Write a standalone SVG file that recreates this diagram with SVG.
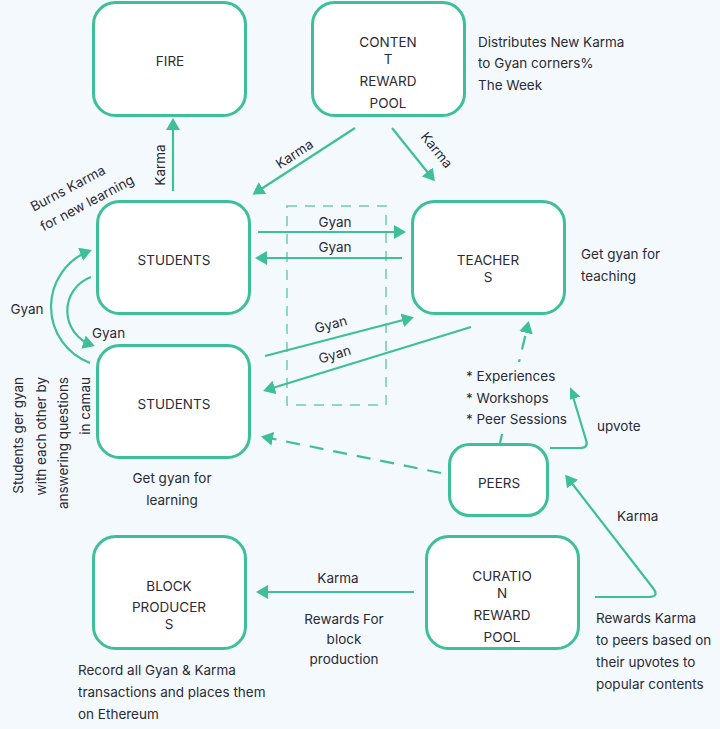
<svg xmlns="http://www.w3.org/2000/svg" width="720" height="729" viewBox="0 0 720 729">
<defs>
<marker id="ah" markerUnits="userSpaceOnUse" markerWidth="12" markerHeight="14" viewBox="0 0 12 14" refX="9" refY="7" orient="auto">
<path d="M0,0 L12,7 L0,14 z" fill="#3dbf9a"/>
</marker>
<style>
.bg{fill:#f4f9fd}
.node{fill:#ffffff;stroke:#3dbf9a;stroke-width:3}
.t{font-family:Inter,"Noto Sans","Liberation Sans",sans-serif;font-size:13.5px;fill:#2b2b36}
.c{text-anchor:middle}
.e{stroke:#3dbf9a;stroke-width:2.2;fill:none;marker-end:url(#ah)}
.d{stroke-dasharray:14 10}
</style>
</defs>
<rect class="bg" x="0" y="0" width="720" height="729"/>

<g id="connectors">
<rect x="287" y="206" width="99" height="199" fill="none" stroke="#6ccbb0" stroke-width="1.5" stroke-dasharray="10 8"/>
<path class="e" d="M173,191 L173,121"/>
<path class="e" d="M355,128 L255,193"/>
<path class="e" d="M392,128 L433,179"/>
<path class="e" d="M258,232 L403,232"/>
<path class="e" d="M402,258 L258,258"/>
<path class="e" d="M265,356 L411,318"/>
<path class="e" d="M471,327 L266,390"/>
<path class="e" d="M90,363 A60 60 0 0 1 89,251"/>
<path class="e" d="M91,277 A36 36 0 0 0 92,345"/>
<path class="e d" d="M500,443 L528,324"/>
<path class="e d" d="M441,473 L264,437"/>
<path class="e" d="M550,448 H580 Q589,448 586,440 L571,390"/>
<path class="e" d="M595,597 H648 Q660,597 653,588 L567,477"/>
<path class="e" d="M414,592 L259,592"/>
</g>

<g id="labels">
<text class="t c" transform="translate(165,165) rotate(-90)">Karma</text>
<text class="t c" transform="translate(297,158) rotate(-33)">Karma</text>
<text class="t c" transform="translate(433,153) rotate(51)">Karma</text>
<text class="t c" x="335" y="227">Gyan</text>
<text class="t c" x="335" y="252">Gyan</text>
<text class="t c" transform="translate(332,329) rotate(-15)">Gyan</text>
<text class="t c" transform="translate(336,359) rotate(-17)">Gyan</text>
<text class="t c" x="27" y="314">Gyan</text>
<text class="t" x="92" y="338">Gyan</text>
<text class="t c" transform="translate(72,196) rotate(-28)"><tspan x="0" y="-4">Burns Karma</tspan><tspan x="10" y="18">for new learning</tspan></text>
<text class="t" text-anchor="end" transform="translate(0,377) rotate(-90)"><tspan x="0" y="23">Students ger gyan</tspan><tspan x="0" y="46">with each other by</tspan><tspan x="0" y="68">answering questions</tspan><tspan x="0" y="90">in camau</tspan></text>
<text class="t" x="478" y="47">Distributes New Karma</text>
<text class="t" x="478" y="68">to Gyan corners%</text>
<text class="t" x="478" y="90">The Week</text>
<text class="t c" x="172" y="483">Get gyan for</text>
<text class="t c" x="172" y="505">learning</text>
<text class="t" x="581" y="259">Get gyan for</text>
<text class="t" x="581" y="281">teaching</text>
<rect class="bg" x="462" y="362" width="108" height="72"/>
<text class="t" x="466" y="381">* Experiences</text>
<text class="t" x="466" y="403">* Workshops</text>
<text class="t" x="466" y="424">* Peer Sessions</text>
<text class="t" x="597" y="431">upvote</text>
<text class="t" x="617" y="521">Karma</text>
<text class="t c" x="338" y="583">Karma</text>
<text class="t c" x="344" y="624">Rewards For</text>
<text class="t c" x="344" y="644">block</text>
<text class="t c" x="344" y="664">production</text>
<text class="t" x="78" y="675">Record all Gyan &amp; Karma</text>
<text class="t" x="78" y="697">transactions and places them</text>
<text class="t" x="78" y="719">on Ethereum</text>
<text class="t" x="596" y="623">Rewards Karma</text>
<text class="t" x="596" y="645">to peers based on</text>
<text class="t" x="596" y="667">their upvotes to</text>
<text class="t" x="596" y="689">popular contents</text>
</g>

<g id="fire">
<rect class="node" x="93.5" y="2.5" width="152" height="113" rx="22"/>
<text class="t c" x="170" y="66">FIRE</text>
</g>
<g id="content-reward-pool">
<rect class="node" x="312.5" y="2.5" width="152" height="113" rx="22"/>
<text class="t c" x="388" y="47">CONTEN</text>
<text class="t c" x="388" y="64">T</text>
<text class="t c" x="388" y="86">REWARD</text>
<text class="t c" x="388" y="108">POOL</text>
</g>
<g id="students-top">
<rect class="node" x="97.5" y="201.5" width="152" height="112" rx="22"/>
<text class="t c" x="174" y="265">STUDENTS</text>
</g>
<g id="students-bottom">
<rect class="node" x="97.5" y="345.5" width="152" height="112" rx="22"/>
<text class="t c" x="174" y="409">STUDENTS</text>
</g>
<g id="teachers">
<rect class="node" x="412.5" y="201.5" width="152" height="112" rx="22"/>
<text class="t c" x="488" y="265">TEACHER</text>
<text class="t c" x="488" y="282">S</text>
</g>
<g id="peers">
<rect class="node" x="449.5" y="444.5" width="98" height="71" rx="20"/>
<text class="t c" x="499" y="488">PEERS</text>
</g>
<g id="block-producers">
<rect class="node" x="93.5" y="536.5" width="152" height="112" rx="22"/>
<text class="t c" x="169" y="591">BLOCK</text>
<text class="t c" x="169" y="612">PRODUCER</text>
<text class="t c" x="169" y="629">S</text>
</g>
<g id="curation-reward-pool">
<rect class="node" x="426.5" y="536.5" width="152" height="112" rx="22"/>
<text class="t c" x="502" y="581">CURATIO</text>
<text class="t c" x="502" y="598">N</text>
<text class="t c" x="502" y="620">REWARD</text>
<text class="t c" x="502" y="642">POOL</text>
</g>
</svg>
